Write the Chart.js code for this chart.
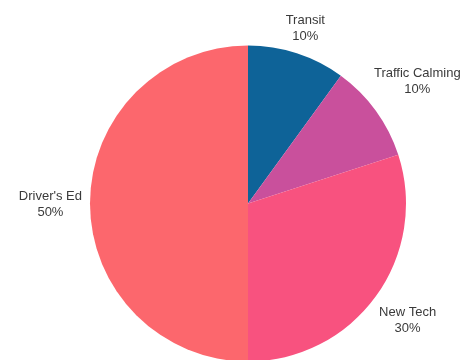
<!DOCTYPE html>
<html>
<head>
<meta charset="utf-8">
<script src="https://cdn.jsdelivr.net/npm/chart.js@4/dist/chart.umd.min.js"></script>
<style>
html,body{margin:0;padding:0;background:#fff;overflow:hidden;}
#wrap{width:475px;height:360px;position:relative;}
</style>
</head>
<body>
<div id="wrap"><canvas id="c" width="475" height="360"></canvas></div>
<script>
const categories = ["Transit", "Traffic Calming", "New Tech", "Driver's Ed"];
const shares = [10, 10, 30, 50];
const colors = ["#0e6398", "#c9509c", "#f8527f", "#fc676d"];

const outsideLabels = {
  id: 'outsideLabels',
  afterDatasetsDraw(chart) {
    const ctx = chart.ctx;
    const meta = chart.getDatasetMeta(0);
    const H = chart.height;
    ctx.save();
    ctx.font = '13px "Liberation Sans", Arial, sans-serif';
    ctx.fillStyle = '#3a3a3a';
    ctx.textAlign = 'center';
    ctx.textBaseline = 'middle';
    const lh = 16;
    meta.data.forEach((arc, i) => {
      const p = arc.getProps(['x','y','startAngle','endAngle','outerRadius'], true);
      const lines = [categories[i], shares[i] + '%'];
      const hw = Math.max(...lines.map(t => ctx.measureText(t).width)) / 2;
      const hh = lh * lines.length / 2 - 2;
      let a = (p.startAngle + p.endAngle) / 2;
      let cx, cy;
      for (let k = 0; k < 200; k++) {
        const dx = Math.cos(a), dy = Math.sin(a);
        const ext = hw * Math.abs(dx) + hh * Math.abs(dy);
        const d = p.outerRadius + 8 + ext;
        cx = p.x + d * dx; cy = p.y + d * dy;
        if (cy + hh <= H - 24) break;
        a -= Math.PI / 360;
      }
      lines.forEach((t, j) => {
        ctx.fillText(t, cx, cy + 1 + (j - (lines.length - 1) / 2) * lh);
      });
    });
    ctx.restore();
  }
};

new Chart(document.getElementById('c'), {
  type: 'pie',
  data: {
    labels: categories,
    datasets: [{
      data: shares,
      backgroundColor: colors,
      borderWidth: 0
    }]
  },
  options: {
    responsive: false,
    animation: false,
    radius: 158,
    layout: { padding: { top: 47, bottom: 0, left: 21, right: 0 } },
    plugins: { legend: { display: false }, tooltip: { enabled: false } }
  },
  plugins: [outsideLabels]
});
</script>
</body>
</html>
